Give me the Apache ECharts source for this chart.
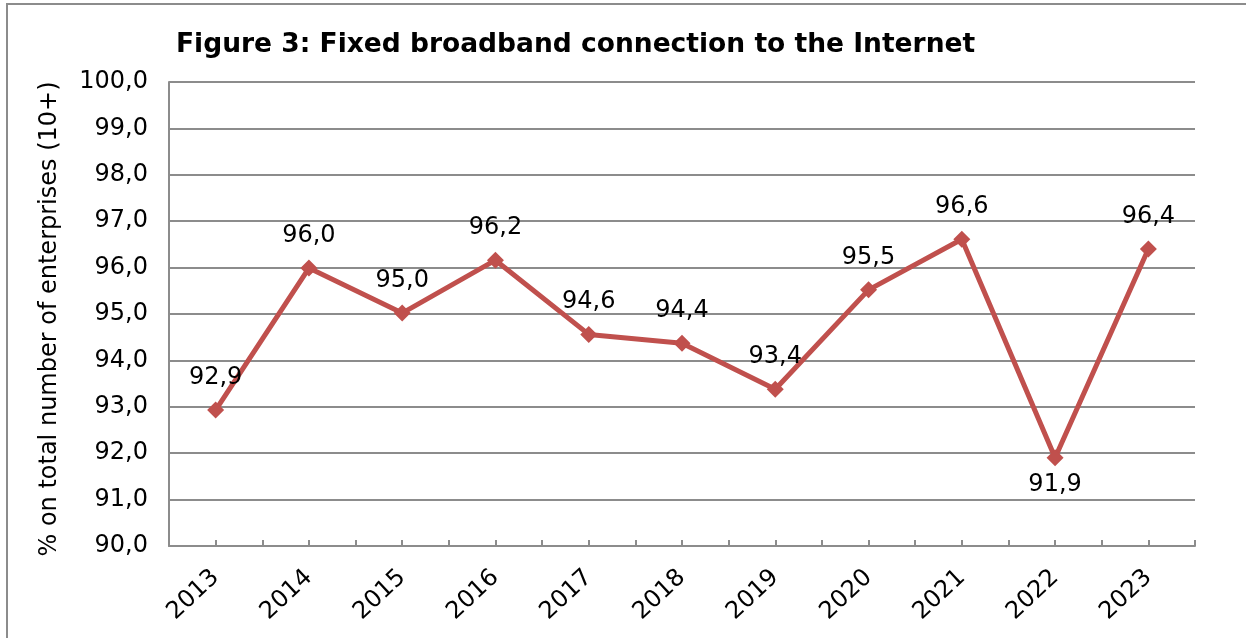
<!DOCTYPE html>
<html>
<head>
<meta charset="utf-8">
<script src="https://cdn.jsdelivr.net/npm/echarts@6/dist/echarts.min.js"></script>
<style>
  html, body { margin: 0; padding: 0; background: #fff; }
  #chart { width: 1246px; height: 638px; }
</style>
</head>
<body>
<div id="chart"></div>
<script>
const years = ['2013', '2014', '2015', '2016', '2017', '2018', '2019', '2020', '2021', '2022', '2023'];
const shares = [92.93, 95.99, 95.02, 96.16, 94.56, 94.37, 93.38, 95.52, 96.61, 91.9, 96.4];
const halfTicks = Array(years.length * 2).fill('');

const font = '"DejaVu Sans", Verdana, sans-serif';
const grey = '#8c8c8c';
const red = '#c0504d';
const fmt = (v) => Number(v).toFixed(1).replace('.', ',');

const chart = echarts.init(document.getElementById('chart'), null, { renderer: 'canvas' });

chart.setOption({
  animation: false,
  textStyle: { fontFamily: font },
  title: {
    text: 'Figure 3: Fixed broadband connection to the Internet',
    left: 171,
    top: 27,
    textStyle: { fontFamily: font, fontSize: 26.5, fontWeight: 'bold', color: '#000' }
  },
  graphic: [{
    type: 'rect',
    shape: { x: 7, y: 4, width: 1400, height: 800 },
    style: { fill: 'none', stroke: grey, lineWidth: 2 },
    silent: true
  }],
  grid: { left: 169, right: 51, top: 82, bottom: 92 },
  xAxis: [{
    type: 'category',
    data: years,
    boundaryGap: true,
    axisLine: { lineStyle: { color: grey, width: 2 } },
    axisTick: { show: false },
    axisLabel: { rotate: 43, margin: 28, color: '#000', fontSize: 24, fontFamily: font, interval: 0 }
  }, {
    type: 'category',
    data: halfTicks,
    position: 'bottom',
    boundaryGap: true,
    axisLine: { show: false },
    axisTick: { show: true, inside: true, length: 6, interval: 0, lineStyle: { color: grey, width: 2 } },
    axisLabel: { show: false }
  }],
  yAxis: {
    type: 'value',
    min: 90,
    max: 100,
    interval: 1,
    name: '% on total number of enterprises (10+)',
    nameLocation: 'middle',
    nameGap: 107,
    nameTextStyle: { fontFamily: font, fontSize: 24, color: '#000', padding: [0, 10, 0, 0] },
    axisLine: { show: true, lineStyle: { color: grey, width: 2 } },
    axisTick: { show: false },
    axisLabel: { margin: 21, color: '#000', fontSize: 24, fontFamily: font, formatter: fmt },
    splitLine: { lineStyle: { color: grey, width: 2 } }
  },
  series: [{
    type: 'line',
    data: shares.map((v, i) => ({
      value: v,
      label: i === 9 ? { position: 'bottom', distance: 6 } : undefined
    })),
    lineStyle: { color: red, width: 5 },
    itemStyle: { color: red },
    symbol: 'diamond',
    symbolSize: 17,
    label: {
      show: true,
      position: 'top',
      distance: 12,
      color: '#000',
      fontSize: 24,
      fontFamily: font,
      formatter: (p) => fmt(p.value)
    }
  }]
});
</script>
</body>
</html>
